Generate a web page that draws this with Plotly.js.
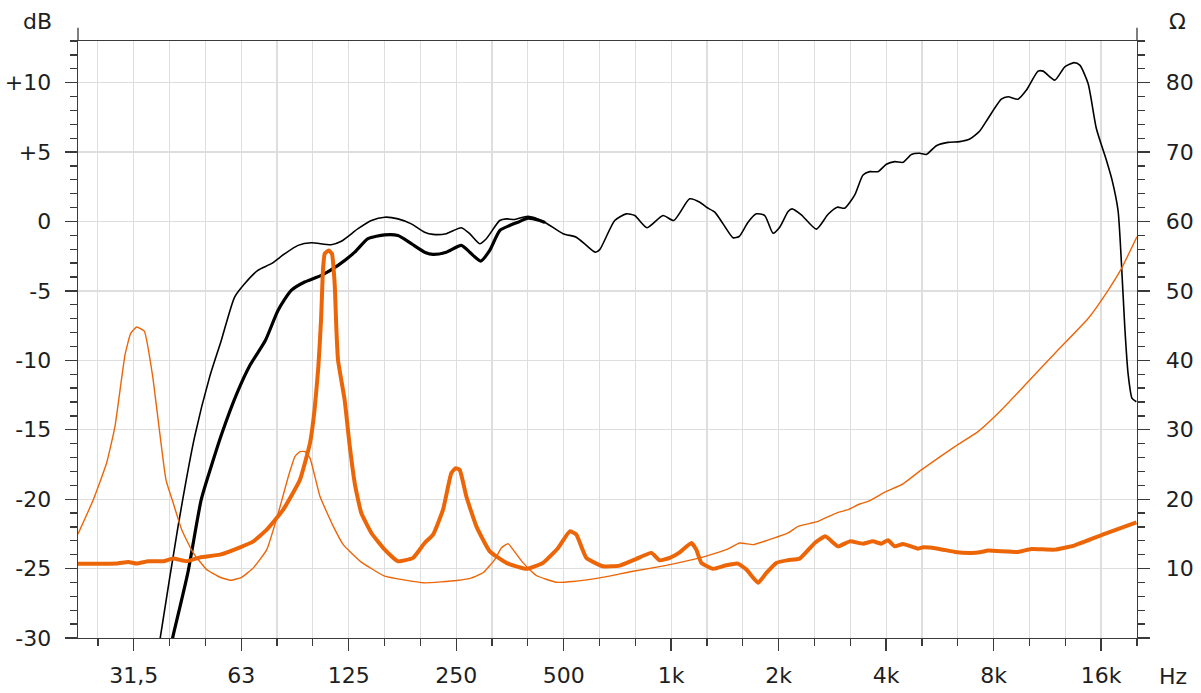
<!DOCTYPE html>
<html>
<head>
<meta charset="utf-8">
<script src="https://cdn.plot.ly/plotly-3.0.1.min.js"></script>
<style>
  html, body { margin: 0; padding: 0; background: #fff; }
  #chart { width: 1201px; height: 693px; }
</style>
</head>
<body>
<div id="chart"></div>
<script>
// ---------- data (Hz, dB, Ohm) ----------
const splThinFreq = [35.9, 37.1, 41.6, 46.3, 51.0, 55.0, 59.9, 63.9, 69.6, 75.9, 82.8, 90.2, 98.2, 111.7, 119.2, 132.8, 144.7, 157.7, 171.8, 187.2, 204.0, 215.4, 234.6, 258.5, 272.8, 291.0, 303.7, 331.1, 345.5, 364.7, 397.4, 437.8, 498, 542.6, 578.7, 613.4, 631, 695, 749, 791, 856, 949, 1017, 1127, 1203, 1255, 1325, 1398, 1491, 1550, 1642, 1733, 1829, 1929, 2014, 2126, 2181, 2316, 2551, 2751, 2920, 3063, 3268, 3447, 3600, 3797, 4006, 4228, 4462, 4708, 4969, 5184, 5530, 5963, 6431, 6860, 7317, 7718, 8410, 8783, 9370, 9883, 10660, 11006, 11868, 12660, 13445, 13949, 14714, 15520, 16550, 17170, 17850, 18240, 18640, 19040, 19540, 20090];
const splThinDb = [-32.3, -29.95, -21.96, -15.50, -11.19, -8.55, -5.44, -4.48, -3.52, -3.04, -2.32, -1.72, -1.53, -1.67, -1.42, -0.52, 0.07, 0.31, 0.19, -0.17, -0.77, -0.93, -0.88, -0.45, -0.88, -1.60, -1.24, 0.07, 0.19, 0.14, 0.38, 0.02, -0.88, -1.13, -1.72, -2.21, -2.03, 0.07, 0.55, 0.43, -0.45, 0.43, 0.07, 1.63, 1.39, 1.03, 0.67, -0.17, -1.17, -1.08, -0.05, 0.55, 0.43, -0.84, -0.41, 0.72, 0.91, 0.48, -0.55, 0.52, 1.03, 0.96, 1.92, 3.35, 3.59, 3.59, 4.12, 4.31, 4.26, 4.83, 4.91, 4.83, 5.46, 5.70, 5.75, 5.94, 6.52, 7.42, 8.81, 8.98, 8.81, 9.46, 10.83, 10.83, 10.18, 11.14, 11.44, 11.26, 9.94, 6.70, 4.43, 3.00, 0.79, -2.95, -7.59, -10.94, -12.74, -12.98];

const splThickFreq = [38.5, 40.2, 44.3, 48.3, 51.5, 55.2, 60.8, 66.2, 73.1, 79.3, 86.3, 94.1, 104.8, 116.7, 130, 141.6, 157.7, 171.8, 187.2, 204.0, 215.4, 234.6, 258.5, 272.8, 293, 310.4, 331.1, 353.1, 372.7, 397.4, 428.4, 443.5];
const splThickDb = [-32.1, -29.95, -25.31, -20.04, -17.65, -15.25, -12.38, -10.34, -8.55, -6.39, -4.96, -4.36, -3.88, -3.16, -2.21, -1.24, -0.96, -1.01, -1.60, -2.21, -2.37, -2.21, -1.72, -2.21, -2.85, -2.08, -0.65, -0.29, -0.05, 0.24, 0.07, -0.07];

const impThinFreq = [21.82, 24.08, 26.24, 27.69, 29.54, 30.65, 31.86, 33.46, 35.33, 36.78, 38.48, 40.32, 42.59, 45.87, 50.02, 54.52, 58.52, 62.7, 67.6, 73.7, 79.4, 84.7, 88.4, 91.3, 94.3, 97.4, 103.9, 113.2, 120.7, 134.5, 157, 203.2, 250.9, 276.5, 297.9, 320.6, 334.5, 349.4, 360.8, 384.8, 419.3, 477, 531, 631, 782.5, 969.4, 1202, 1428, 1556, 1696, 1848, 2126, 2267, 2579, 2902, 3129, 3375, 3560, 4006, 4462, 5021, 6229, 7236, 8410, 9993, 11868, 14714, 16740, 18240, 20160];
const impThinOhm = [14.99, 19.9, 25.2, 30.45, 40.75, 43.87, 44.81, 44.2, 37.63, 30.45, 22.79, 19.44, 15.6, 12.26, 9.86, 8.75, 8.32, 8.75, 10.1, 12.73, 18.0, 23.26, 26.14, 26.85, 26.85, 25.91, 20.39, 16.08, 13.45, 11.08, 8.95, 7.95, 8.28, 8.66, 9.43, 11.29, 12.97, 13.59, 12.73, 10.82, 9.0, 8.03, 8.13, 8.66, 9.61, 10.47, 11.54, 12.73, 13.69, 13.45, 14.02, 15.13, 16.08, 16.8, 18.0, 18.48, 19.3, 19.67, 21.11, 22.21, 24.22, 27.57, 29.73, 32.84, 36.91, 40.99, 46.02, 50.09, 53.2, 57.8];

const impThickFreq = [21.82, 28.0, 30.18, 31.86, 34.33, 37.81, 40.32, 43.98, 47.9, 54.52, 62.04, 67.6, 73.7, 81.96, 91.3, 97.4, 100.3, 102.8, 104.6, 105.9, 107.1, 109.9, 112.2, 114.2, 115.5, 116.7, 121.8, 125.9, 130.2, 135.6, 144.7, 157.7, 171.8, 189.3, 204, 215.4, 229.7, 242.3, 249.3, 255.8, 267.0, 284.8, 310.4, 345.5, 393.1, 437.8, 482.4, 520, 542.6, 578.7, 644.4, 717.9, 798.7, 880.2, 929.1, 991, 1057, 1139, 1176, 1215, 1310, 1428, 1539, 1625, 1752, 1848, 1971, 2126, 2291, 2525, 2704, 2934, 3164, 3447, 3676, 3880, 4050, 4228, 4462, 4914, 5077, 5592, 6229, 6931, 7393, 7718, 9370, 10204, 11868, 13502, 16380, 20090];
const impThickOhm = [10.68, 10.72, 10.96, 10.72, 11.05, 11.05, 11.44, 11.05, 11.62, 12.01, 13.06, 13.92, 15.6, 18.48, 22.79, 28.06, 32.84, 39.07, 45.78, 52.96, 55.36, 55.83, 55.36, 51.05, 44.34, 40.03, 34.28, 27.57, 22.07, 18.0, 15.13, 12.73, 11.05, 11.54, 13.69, 14.89, 18.48, 23.75, 24.47, 24.22, 20.39, 16.08, 12.49, 10.82, 9.96, 10.82, 12.97, 15.36, 14.89, 11.54, 10.33, 10.43, 11.39, 12.26, 11.19, 11.54, 12.34, 13.69, 12.73, 10.82, 9.96, 10.47, 10.72, 9.86, 7.95, 9.38, 10.82, 11.22, 11.44, 13.69, 14.64, 13.2, 13.92, 13.59, 13.92, 13.59, 14.07, 13.2, 13.55, 12.87, 13.06, 12.87, 12.4, 12.26, 12.4, 12.59, 12.4, 12.83, 12.73, 13.35, 14.99, 16.65];

// ---------- tick labels ----------
const xMajorVals = [31.25, 62.5, 125, 250, 500, 1000, 2000, 4000, 8000, 16000];
const xMajorText = ['31,5', '63', '125', '250', '500', '1k', '2k', '4k', '8k', '16k'];
const xMinorVals = [24.8, 39.37, 49.6, 78.74, 99.21, 157.5, 198.4, 315, 396.9, 630, 793.7, 1260, 1587, 2520, 3175, 5040, 6350, 10079, 12699, 20159];
const yMajorVals = [-30, -25, -20, -15, -10, -5, 0, 5, 10];
const yMajorText = ['-30', '-25', '-20', '-15', '-10', '-5', '0', '+5', '+10'];
const y2MajorVals = [0, 10, 20, 30, 40, 50, 60, 70, 80];
const y2MajorText = ['', '10', '20', '30', '40', '50', '60', '70', '80'];

const ORANGE = '#ec6608';
const AX = '#3a3a3a';
const GRID = '#dedede';
const FONT = { family: 'DejaVu Sans, Liberation Sans, sans-serif', size: 22, color: '#1e1e1e' };

const traces = [
  { x: splThinFreq, y: splThinDb, type: 'scatter', mode: 'lines', yaxis: 'y',
    line: { color: '#000', width: 1.6, shape: 'spline', smoothing: 0.6 }, hoverinfo: 'skip' },
  { x: splThickFreq, y: splThickDb, type: 'scatter', mode: 'lines', yaxis: 'y',
    line: { color: '#000', width: 3.2, shape: 'spline', smoothing: 0.6 }, hoverinfo: 'skip' },
  { x: impThinFreq, y: impThinOhm, type: 'scatter', mode: 'lines', yaxis: 'y2',
    line: { color: ORANGE, width: 1.4, shape: 'spline', smoothing: 0.4 }, hoverinfo: 'skip' },
  { x: impThickFreq, y: impThickOhm, type: 'scatter', mode: 'lines', yaxis: 'y2',
    line: { color: ORANGE, width: 4, shape: 'spline', smoothing: 0.4 }, hoverinfo: 'skip' }
];

const layout = {
  width: 1201, height: 693,
  margin: { l: 78, r: 64, t: 41, b: 55, pad: 0 },
  paper_bgcolor: '#fff', plot_bgcolor: '#fff',
  showlegend: false,
  font: FONT,
  xaxis: {
    type: 'log',
    range: [Math.log10(21.82), Math.log10(20170)],
    tickmode: 'array', tickvals: xMajorVals, ticktext: xMajorText,
    ticks: 'outside', ticklen: 12, tickwidth: 1.3, tickcolor: AX,
    showgrid: true, gridcolor: GRID, gridwidth: 1.2,
    showline: true, linecolor: AX, linewidth: 1.3, mirror: true,
    zeroline: false, tickfont: FONT, ticklabelstandoff: 5,
    minor: { tickmode: 'array', tickvals: xMinorVals, ticks: 'outside', ticklen: 7,
             tickwidth: 1.3, tickcolor: AX, showgrid: true, gridcolor: GRID, gridwidth: 1.2 }
  },
  yaxis: {
    range: [-30, 13],
    tickmode: 'array', tickvals: yMajorVals, ticktext: yMajorText,
    ticks: 'outside', ticklen: 12, tickwidth: 1.3, tickcolor: AX,
    showgrid: true, gridcolor: GRID, gridwidth: 1.2,
    showline: true, linecolor: AX, linewidth: 1.3,
    zeroline: false, tickfont: FONT, ticklabelstandoff: 9,
    minor: { dtick: 1, tick0: 0, ticks: 'outside', ticklen: 7, tickwidth: 1.3, tickcolor: AX, showgrid: false }
  },
  yaxis2: {
    overlaying: 'y', side: 'right',
    range: [0, 86],
    tickmode: 'array', tickvals: y2MajorVals, ticktext: y2MajorText,
    ticks: 'outside', ticklen: 12, tickwidth: 1.3, tickcolor: AX,
    showgrid: false, showline: true, linecolor: AX, linewidth: 1.3,
    zeroline: false, tickfont: FONT, ticklabelstandoff: 11,
    minor: { dtick: 2, tick0: 0, ticks: 'outside', ticklen: 7, tickwidth: 1.3, tickcolor: AX, showgrid: false }
  },
  shapes: [
    { type: 'line', xref: 'paper', yref: 'paper', x0: 0, x1: 0, y0: 1, y1: 1.022, line: { color: AX, width: 1.3 } },
    { type: 'line', xref: 'paper', yref: 'paper', x0: 1, x1: 1, y0: 1, y1: 1.022, line: { color: AX, width: 1.3 } }
  ],
  annotations: [
    { text: 'dB', xref: 'paper', yref: 'paper', x: -0.0387, y: 1.032, showarrow: false, font: FONT, xanchor: 'center', yanchor: 'middle' },
    { text: 'Ω', xref: 'paper', yref: 'paper', x: 1.0387, y: 1.032, showarrow: false, font: FONT, xanchor: 'center', yanchor: 'middle' },
    { text: 'Hz', xref: 'paper', yref: 'paper', x: 1.034, y: -0.0653, showarrow: false, font: FONT, xanchor: 'center', yanchor: 'middle' }
  ]
};

Plotly.newPlot('chart', traces, layout, { staticPlot: true, displayModeBar: false });
</script>
</body>
</html>
